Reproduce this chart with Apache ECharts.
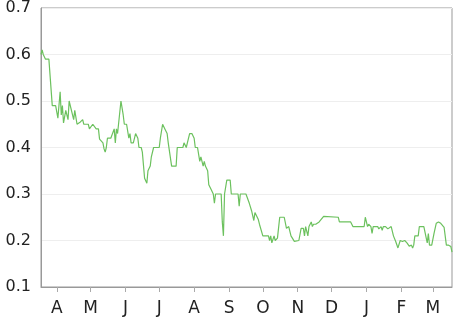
<!DOCTYPE html>
<html>
<head>
<meta charset="utf-8">
<script src="https://cdn.jsdelivr.net/npm/echarts@6/dist/echarts.min.js"></script>
<style>
html,body{margin:0;padding:0;background:#fff;}
#chart{width:466px;height:317px;}
</style>
</head>
<body>
<div id="chart"></div>
<script>
// Start date of the series (day 0)
const START = [2014, 2, 18];
const END_DAY = 365;
// Day offsets from START at which the line changes
const DAYS = [0,1,2,3,4,7,10,13,15,17,18,19,20,22,24,25,26,28,29,30,32,35,37,38,42,43,46,49,51,52,55,56,57,58,59,62,65,66,67,68,71,73,74,76,78,79,80,82,84,86,87,89,90,92,94,95,97,98,100,105,106,108,110,112,113,116,118,120,121,126,127,129,130,132,134,136,137,139,141,142,144,145,146,148,149,151,153,154,155,160,161,162,163,165,168,169,171,175,176,177,182,185,187,189,190,193,194,197,200,202,203,204,205,207,208,210,212,216,218,220,222,225,226,229,231,233,234,235,237,238,240,241,242,244,247,248,251,264,265,275,277,287,288,290,291,293,294,295,299,300,302,303,304,306,308,311,312,313,315,317,319,321,323,325,327,329,330,331,332,335,336,340,343,344,345,347,349,351,353,355,358,360,362,364,365];
// Values
const VALUES = [0.60,0.61,0.60,0.60,0.59,0.59,0.49,0.49,0.463,0.52,0.47,0.49,0.453,0.48,0.46,0.50,0.50,0.47,0.46,0.48,0.45,0.455,0.46,0.45,0.45,0.44,0.45,0.44,0.44,0.418,0.41,0.397,0.39,0.40,0.42,0.42,0.44,0.41,0.44,0.43,0.50,0.47,0.45,0.45,0.42,0.43,0.41,0.41,0.43,0.42,0.40,0.40,0.39,0.334,0.323,0.35,0.36,0.38,0.40,0.40,0.42,0.45,0.44,0.43,0.41,0.36,0.36,0.36,0.40,0.40,0.41,0.40,0.41,0.43,0.43,0.42,0.40,0.40,0.37,0.38,0.36,0.37,0.36,0.35,0.32,0.31,0.30,0.28,0.30,0.30,0.24,0.21,0.30,0.33,0.33,0.30,0.30,0.30,0.274,0.30,0.30,0.28,0.264,0.243,0.26,0.245,0.235,0.21,0.21,0.21,0.20,0.21,0.195,0.21,0.20,0.205,0.25,0.25,0.226,0.23,0.21,0.198,0.20,0.20,0.226,0.226,0.21,0.23,0.21,0.23,0.24,0.23,0.235,0.235,0.24,0.237,0.252,0.25,0.24,0.24,0.23,0.23,0.25,0.23,0.235,0.23,0.215,0.23,0.23,0.225,0.23,0.222,0.23,0.23,0.225,0.23,0.23,0.21,0.198,0.184,0.20,0.198,0.20,0.195,0.188,0.19,0.184,0.19,0.21,0.21,0.23,0.23,0.195,0.215,0.19,0.19,0.215,0.237,0.24,0.237,0.228,0.19,0.19,0.187,0.175];
const Y_TICKS = ['0.1','0.2','0.3','0.4','0.5','0.6','0.7'];
const MONTH_LETTERS = ['J','F','M','A','M','J','J','A','S','O','N','D'];

function dayToTime(d) {
  return new Date(START[0], START[1], START[2] + d).getTime();
}
const seriesData = DAYS.map((d, i) => [dayToTime(d), VALUES[i]]);

const chart = echarts.init(document.getElementById('chart'), null, {renderer: 'canvas'});
const FONT = 'DejaVu Sans';
chart.setOption({
  animation: false,
  backgroundColor: '#fff',
  grid: {left: 41, right: 14, top: 7, bottom: 25, show: true, borderColor: '#999', borderWidth: 1},
  xAxis: {
    type: 'time',
    min: dayToTime(0),
    max: dayToTime(END_DAY),
    splitNumber: 12,
    minInterval: 28 * 86400000,
    maxInterval: 31 * 86400000,
    axisLine: {show: true, lineStyle: {color: '#999', width: 1}},
    axisTick: {show: true, length: 5, lineStyle: {color: '#aaa'}},
    splitLine: {show: false},
    axisLabel: {
      color: '#222', fontFamily: FONT, fontSize: 17, margin: 13,
      showMinLabel: false, showMaxLabel: false,
      formatter: function (v) { return MONTH_LETTERS[new Date(v).getMonth()]; }
    }
  },
  yAxis: {
    type: 'value',
    min: Number(Y_TICKS[0]),
    max: Number(Y_TICKS[Y_TICKS.length - 1]),
    interval: 0.1,
    axisLine: {show: true, lineStyle: {color: '#999', width: 1}},
    axisTick: {show: false},
    splitLine: {show: true, lineStyle: {color: '#eee', width: 1}},
    axisLabel: {
      color: '#222', fontFamily: FONT, fontSize: 16, margin: 10,
      formatter: function (v) { return v.toFixed(1); }
    }
  },
  series: [{
    type: 'line',
    data: seriesData,
    showSymbol: false,
    lineStyle: {color: '#6cc15e', width: 1.2},
    itemStyle: {color: '#6cc15e'}
  }]
});
</script>
</body>
</html>
